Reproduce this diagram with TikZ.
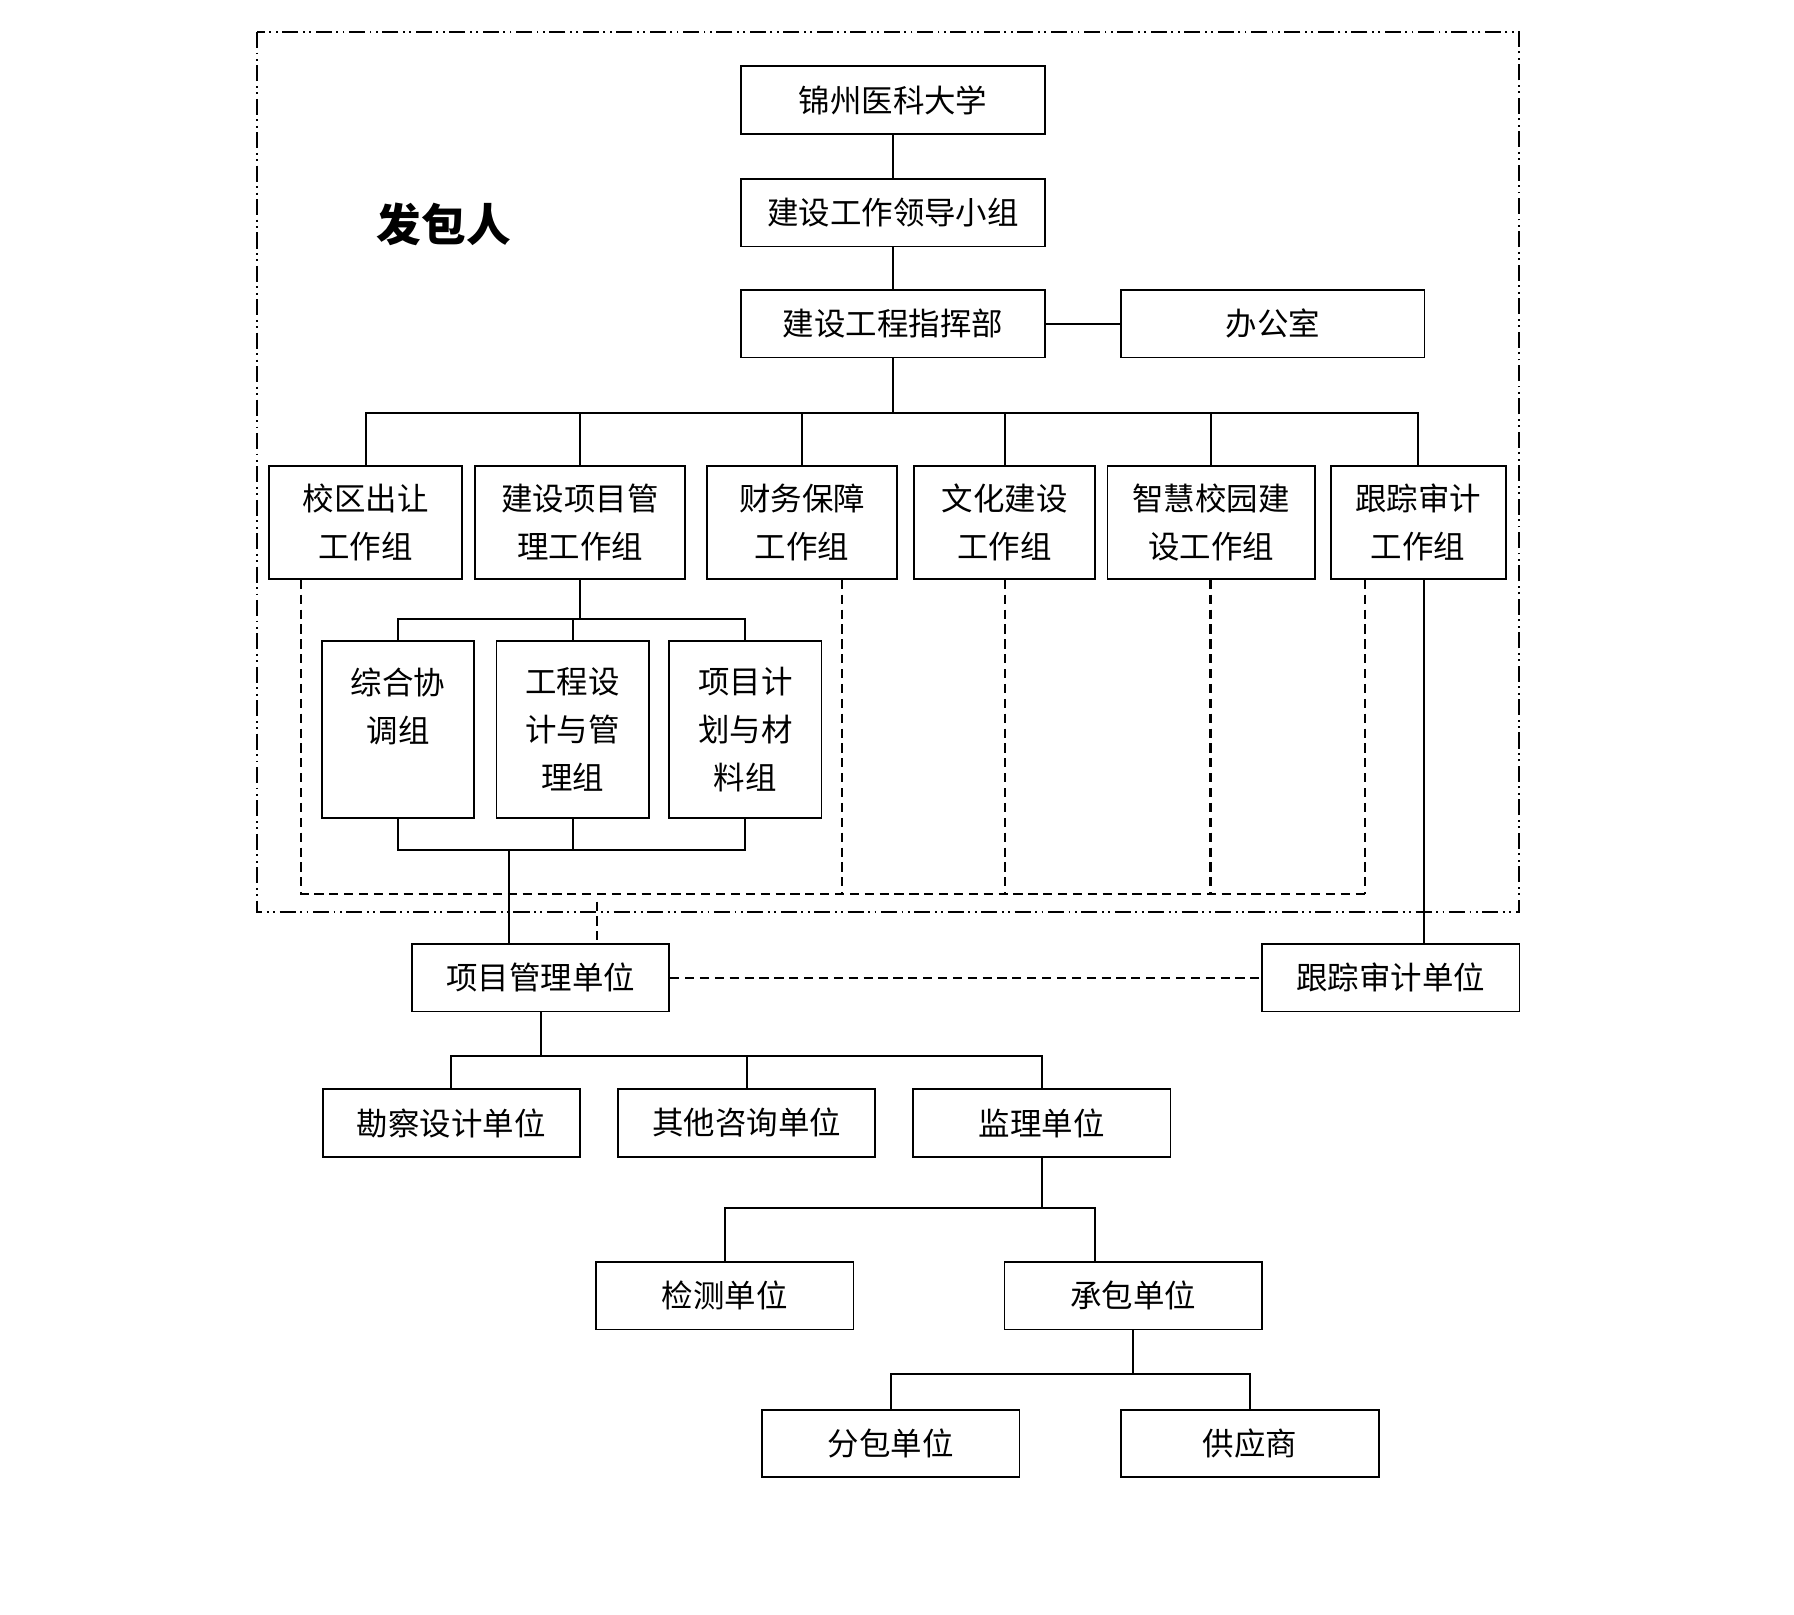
\documentclass[tikz,border=0pt]{standalone}
\usepackage{fontspec}
\setmainfont{Noto Sans CJK SC}
\begin{document}
\begin{tikzpicture}[x=1pt,y=-1pt,
  every path/.style={line width=1.8pt},
  box/.style={draw, line width=1.6pt, inner sep=0pt, align=center,
    font=\fontsize{27.5pt}{42pt}\selectfont},
  wbox/.style={box, minimum width=265pt, minimum height=59pt},
  ubox/.style={box, minimum width=225pt, minimum height=59pt},
  gbox/.style={box, minimum height=99pt},
  sbox/.style={box, minimum width=133pt, minimum height=155pt},
  dashline/.style={line width=1.8pt, dash pattern=on 8pt off 5pt},
  frame/.style={line width=1.7pt, dash pattern=on 14pt off 4pt on 1.6pt off 4pt on 1.6pt off 4pt}]
\useasboundingbox (0,0) rectangle (1568,1411);
\fill[white] (0,0) rectangle (1568,1411);

% outer frame
\draw[frame] (225,28) rectangle (1328,797);
\node[font=\fontsize{39pt}{40pt}\selectfont\bfseries] (fbr) at (388,196) {发包人};

% top chain
\node[wbox] (jz) at (780.5,87.5) {锦州医科大学};
\node[wbox] (ld) at (780.5,186) {建设工作领导小组};
\node[wbox] (zh) at (780.5,283) {建设工程指挥部};
\node[wbox] (bg) at (1112.5,283) {办公室};
\draw (jz) -- (ld);
\draw (ld) -- (zh);
\draw (zh) -- (bg);

% working groups
\node[gbox, minimum width=169pt] (g1) at (319.5,456.5) {校区出让\\工作组};
\node[gbox, minimum width=184pt] (g2) at (507,456.5) {建设项目管\\理工作组};
\node[gbox, minimum width=166pt] (g3) at (701,456.5) {财务保障\\工作组};
\node[gbox, minimum width=158pt] (g4) at (878,456.5) {文化建设\\工作组};
\node[gbox, minimum width=181pt] (g5) at (1058.5,456.5) {智慧校园建\\设工作组};
\node[gbox, minimum width=153pt] (g6) at (1239.5,456.5) {跟踪审计\\工作组};
\coordinate (bus1) at (780.5,361);
\draw (zh) -- (bus1);
\foreach \g in {g1,g2,g3,g4,g5,g6} \draw (\g.north) |- (bus1);

% sub groups
\node[sbox] (s1) at (348,637.5) {综合协\\调组\\~};
\node[sbox] (s2) at (500.5,637.5) {工程设\\计与管\\理组};
\node[sbox] (s3) at (651.5,637.5) {项目计\\划与材\\料组};
\coordinate (bus2) at (507,541);
\draw (g2) -- (bus2);
\draw (s1.north) |- (bus2);
\draw (s3.north) |- (bus2);
\draw (s2.north) -- (s2.north |- bus2);
\coordinate (bus3) at (445,743);
\draw (s1.south) |- (bus3);
\draw (s3.south) |- (bus3);
\draw (s2.south) -- (s2.south |- bus3);

% dashed network
\coordinate (d1) at (263,781);
\coordinate (d3) at (736,781);
\coordinate (d4) at (878,781);
\coordinate (d5) at (1058,781);
\coordinate (d6) at (1193,781);
\draw[dashline] (g1.south -| d1) -- (d1) -- (d6);
\draw[dashline] (g3.south -| d3) -- (d3);
\draw[dashline] (g4.south -| d4) -- (d4);
\draw[dashline] (g5.south -| d5) -- (d5);
\draw[dashline] (g6.south -| d6) -- (d6);

% units
\node[ubox] (pm) at (472.5,854.5) {项目管理单位};
\node[ubox] (ta) at (1215.5,854.5) {跟踪审计单位};
\draw (bus3) -- (bus3 |- pm.north);
\coordinate (d7) at (522,788);
\draw[dashline] (d7) -- (d7 |- pm.north);
\coordinate (au) at (1245,506);
\draw (au) -- (au |- ta.north);
\draw[dashline] (pm) -- (ta);

\node[ubox] (kc) at (394.5,981.5) {勘察设计单位};
\node[ubox] (qt) at (652.5,981.5) {其他咨询单位};
\node[ubox] (jl) at (910.5,981.5) {监理单位};
\coordinate (bus4) at (472.5,923);
\draw (pm) -- (bus4);
\draw (kc.north) |- (bus4);
\draw (jl.north) |- (bus4);
\draw (qt.north) -- (qt.north |- bus4);

\node[ubox] (jc) at (633.5,1132.5) {检测单位};
\node[ubox] (cb) at (990.5,1132.5) {承包单位};
\coordinate (bus5) at (910.5,1056);
\draw (jl) -- (bus5);
\draw (jc.north) |- (bus5);
\coordinate (cbt) at (957,1103);
\draw (cbt) -- (cbt |- bus5) -- (bus5);

\node[ubox] (fb) at (778.5,1261.5) {分包单位};
\node[ubox] (gy) at (1092.5,1261.5) {供应商};
\coordinate (bus6) at (990.5,1201);
\draw (cb) -- (bus6);
\draw (fb.north) |- (bus6);
\draw (gy.north) |- (bus6);
\end{tikzpicture}
\end{document}
